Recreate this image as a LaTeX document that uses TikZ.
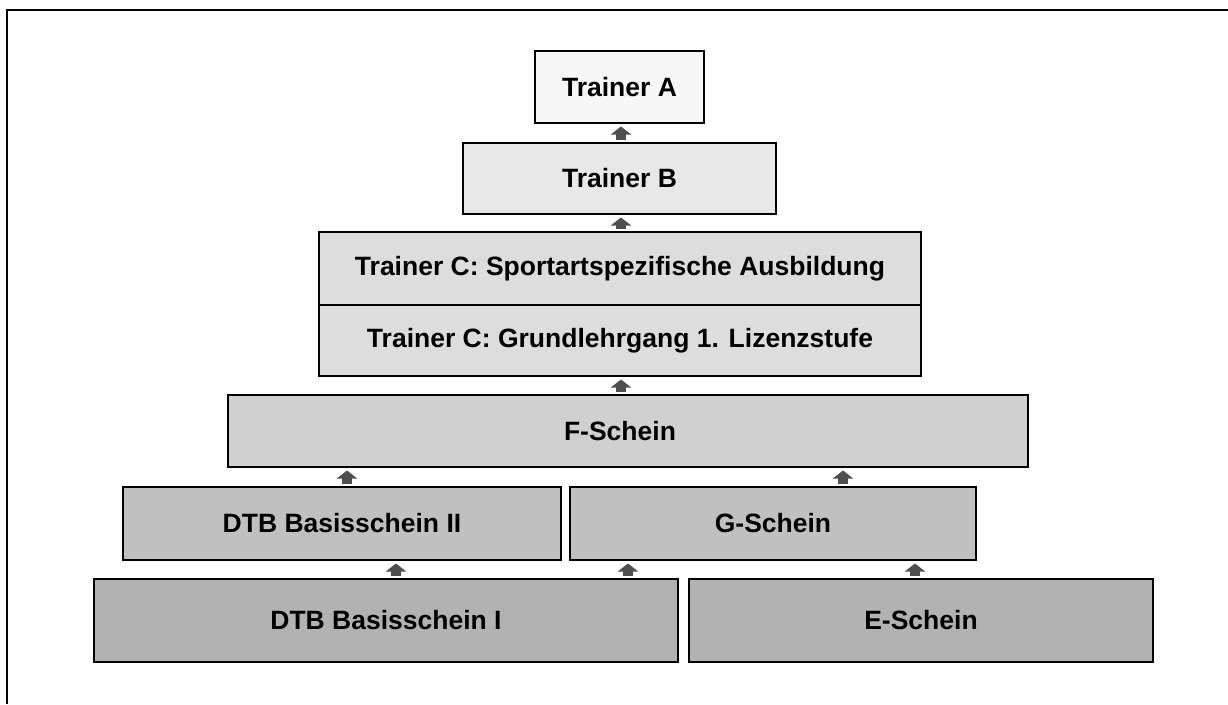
\documentclass[tikz,border=0pt]{standalone}
\usepackage{fontspec}
\setmainfont{Liberation Sans}
\usetikzlibrary{arrows.meta}
\definecolor{fillA}{HTML}{F7F7F7}
\definecolor{fillB}{HTML}{E8E8E8}
\definecolor{fillC}{HTML}{DDDDDD}
\definecolor{fillF}{HTML}{D0D0D0}
\definecolor{fillR2}{HTML}{C0C0C0}
\definecolor{fillR3}{HTML}{B2B2B2}
\definecolor{arrowgray}{HTML}{4F4F4F}
\tikzset{
  stage/.style={draw=black, line width=2pt, rectangle, inner sep=0pt,
    font=\fontsize{26.5}{30}\selectfont\bfseries, text=black},
  uparrow/.style={draw=arrowgray, line width=10pt, shorten <=2pt, shorten >=2.5pt,
    -{Triangle[width=20pt,length=8pt]}},
  frameline/.style={draw=black, line width=2pt}
}
\begin{document}
\begin{tikzpicture}[x=1pt,y=-1pt]
\useasboundingbox (0,0) rectangle (1228,704);
\draw[frameline] (7,704) -- (7,10) -- (1228,10);
% boxes
\node[stage, fill=fillA, minimum width=169pt, minimum height=72pt] (A) at (619.5,87) {Trainer A};
\node[stage, fill=fillB, minimum width=313pt, minimum height=71pt] (B) at (619.5,178.5) {Trainer B};
\node[stage, fill=fillC, minimum width=602pt, minimum height=73pt] (C1) at (620,268.5) {Trainer C: Sportartspezifische Ausbildung};
\node[stage, fill=fillC, minimum width=602pt, minimum height=71pt] (C2) at (620,340.5) {Trainer C: Grundlehrgang 1. Lizenzstufe};
\node[stage, fill=fillF, minimum width=800pt, minimum height=72pt] (F) at (628,431) {};
\node[font=\fontsize{26.5}{30}\selectfont\bfseries] (Ft) at (620,431) {F-Schein};
\node[stage, fill=fillR2, minimum width=438pt, minimum height=73pt] (D2) at (342,523.5) {DTB Basisschein II};
\node[stage, fill=fillR2, minimum width=406pt, minimum height=73pt] (G) at (773,523.5) {G-Schein};
\node[stage, fill=fillR3, minimum width=584pt, minimum height=83pt] (D1) at (386,620.5) {DTB Basisschein I};
\node[stage, fill=fillR3, minimum width=464pt, minimum height=83pt] (E) at (921,620.5) {E-Schein};
% arrow x positions
\coordinate (xm) at (621,0);
\coordinate (xf1) at (347,0);
\coordinate (xf2) at (843,0);
\coordinate (xr1) at (396,0);
\coordinate (xr2) at (628,0);
\coordinate (xr3) at (915,0);
% connectors
\draw[uparrow] (xm |- B.north) -- (xm |- A.south);
\draw[uparrow] (xm |- C1.north) -- (xm |- B.south);
\draw[uparrow] (xm |- F.north) -- (xm |- C2.south);
\draw[uparrow] (xf1 |- D2.north) -- (xf1 |- F.south);
\draw[uparrow] (xf2 |- G.north) -- (xf2 |- F.south);
\draw[uparrow] (xr1 |- D1.north) -- (xr1 |- D2.south);
\draw[uparrow] (xr2 |- D1.north) -- (xr2 |- G.south);
\draw[uparrow] (xr3 |- E.north) -- (xr3 |- G.south);
\end{tikzpicture}
\end{document}
